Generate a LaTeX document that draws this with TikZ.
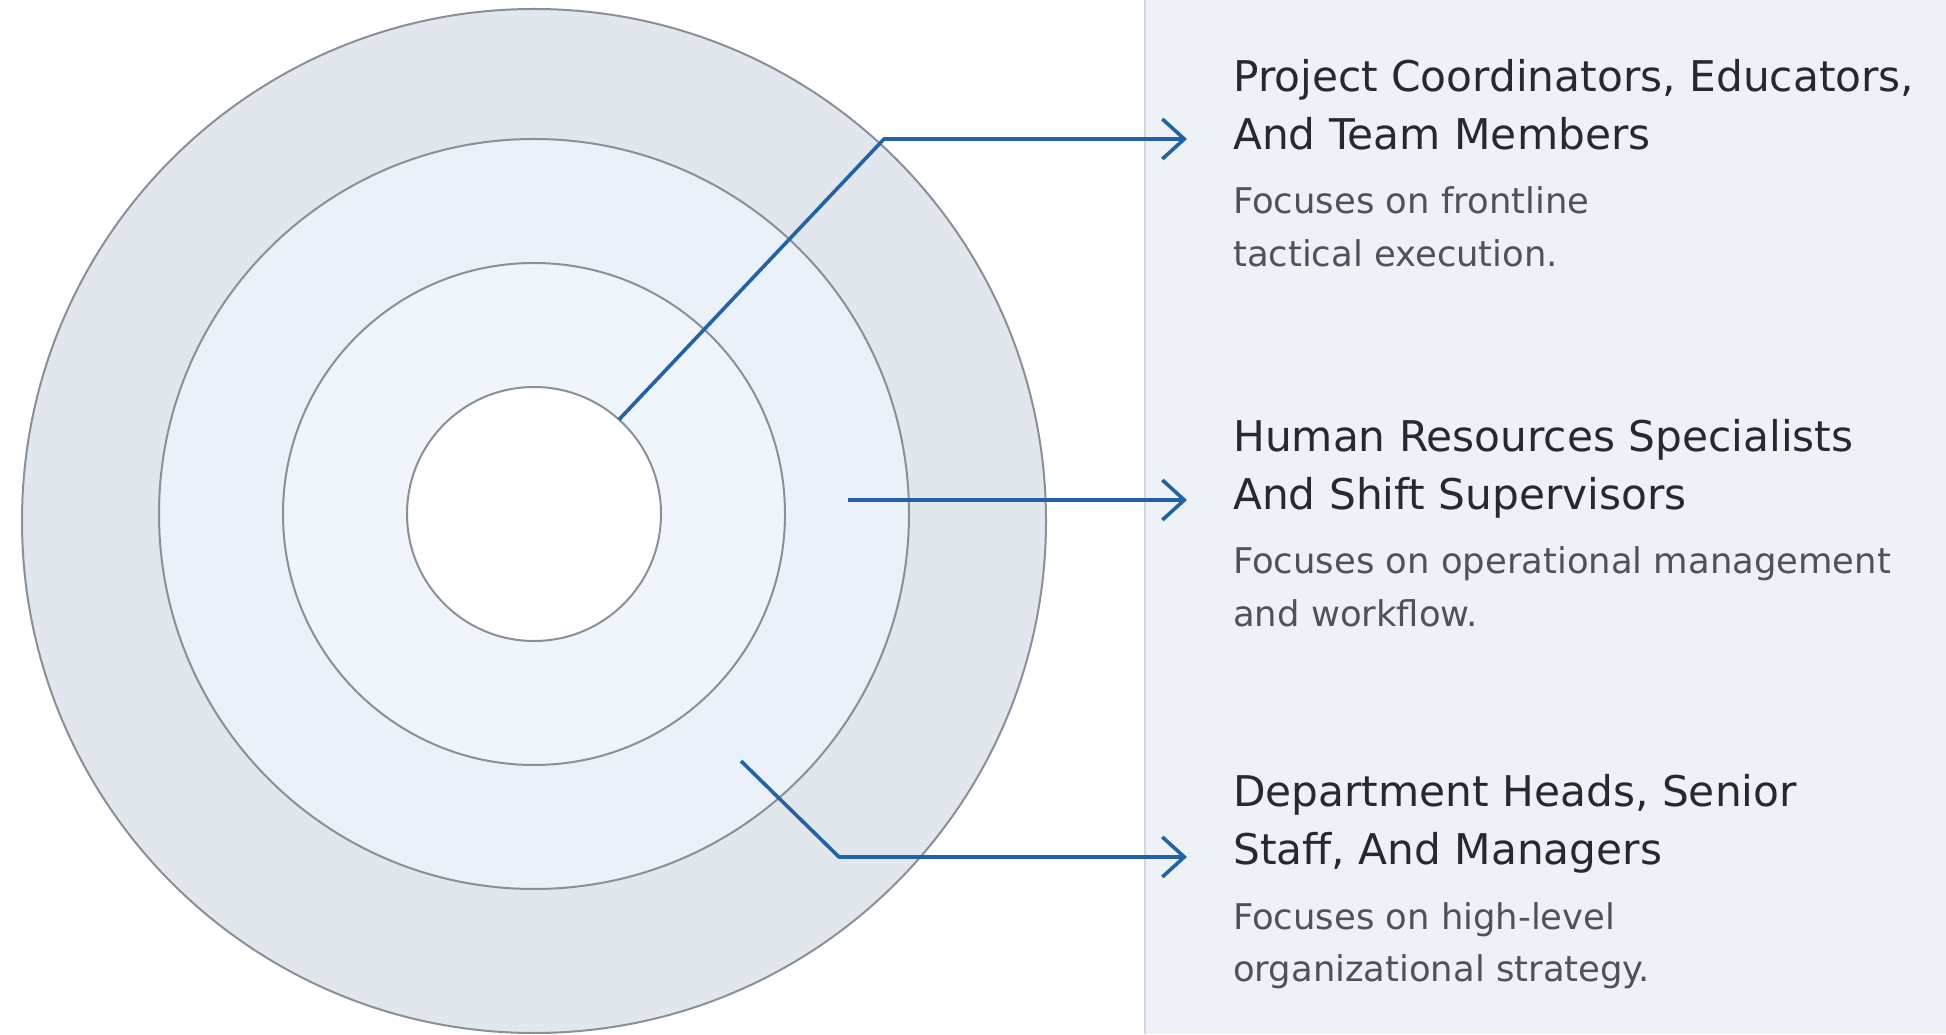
\documentclass[tikz,border=0pt]{standalone}
\usepackage{fontspec}
\setmainfont{DejaVu Sans}
\usetikzlibrary{arrows.meta}
\definecolor{ringA}{HTML}{E2E6ED}
\definecolor{ringB}{HTML}{EAF1F9}
\definecolor{ringC}{HTML}{F0F5FB}
\definecolor{ringline}{HTML}{8A9098}
\definecolor{panelbg}{HTML}{EEF1F6}
\definecolor{panelline}{HTML}{D3D8DF}
\definecolor{connblue}{HTML}{2462A8}
\definecolor{headc}{HTML}{26292F}
\definecolor{bodyc}{HTML}{4E535B}
\tikzset{
  ringnode/.style={circle, draw=ringline, line width=2pt, inner sep=0pt, outer sep=0pt},
  conn/.style={draw=connblue, line width=3.6pt, line join=round,
    -{Straight Barb[length=22pt,width=40pt,line width=3.6pt]}},
  headtxt/.style={anchor=base west, inner sep=0pt, text=headc, font=\fontsize{42.3}{50}\selectfont},
  bodytxt/.style={anchor=base west, inner sep=0pt, text=bodyc, font=\fontsize{35.4}{42}\selectfont}
}
\begin{document}
\begin{tikzpicture}[x=1pt,y=1pt]
\useasboundingbox (0,0) rectangle (1946,1034);
\fill[white] (0,0) rectangle (1946,1034);
\fill[panelbg] (1145,0) rectangle (1946,1034);
\draw[panelline, line width=2pt] (1145,0) -- (1145,1034);

% concentric rings
\node[ringnode, fill=ringA, minimum size=1024pt] (c1) at (534,513) {};
\node[ringnode, fill=ringB, minimum size=750pt] (c2) at (534,520) {};
\node[ringnode, fill=ringC, minimum size=502pt] (c3) at (534,520) {};
\node[ringnode, fill=white, minimum size=254pt] (c4) at (534,520) {};

% connector coordinates
\coordinate (b1) at (884,895);
\coordinate (t1) at (1187,895);
\coordinate (s2) at (848,534);
\coordinate (t2) at (1187,534);
\coordinate (s3) at (741,273);
\coordinate (b3) at (839,177);
\coordinate (t3) at (1187,177);

\draw[conn] (c4.48) -- (b1) -- (t1);
\draw[conn] (s2) -- (t2);
\draw[conn] (s3) -- (b3) -- (t3);

% texts block 1
\node[headtxt] (h1a) at (1233,942.3) {Project Coordinators, Educators,};
\node[headtxt] (h1b) at (1233,884.8) {And Team Members};
\node[bodytxt] (d1a) at (1233,820) {Focuses on frontline};
\node[bodytxt] (d1b) at (1233,767.3) {tactical execution.};

% texts block 2
\node[headtxt] (h2a) at (1233,582.3) {Human Resources Specialists};
\node[headtxt] (h2b) at (1233,524.7) {And Shift Supervisors};
\node[bodytxt] (d2a) at (1233,460) {Focuses on operational management};
\node[bodytxt] (d2b) at (1233,407.3) {and workflow.};

% texts block 3
\node[headtxt] (h3a) at (1233,227.3) {Department Heads, Senior};
\node[headtxt] (h3b) at (1233,169.8) {Staff, And Managers};
\node[bodytxt] (d3a) at (1233,105) {Focuses on high-level};
\node[bodytxt] (d3b) at (1233,52.3) {organizational strategy.};
\end{tikzpicture}
\end{document}
